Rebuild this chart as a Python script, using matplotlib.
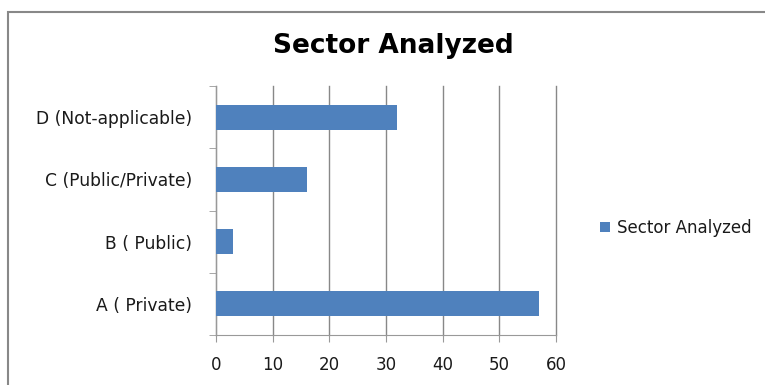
import matplotlib.pyplot as plt
from matplotlib.patches import Rectangle

categories = ['A ( Private)', 'B ( Public)', 'C (Public/Private)', 'D (Not-applicable)']
values = [57, 3, 16, 32]
xticks = [0, 10, 20, 30, 40, 50, 60]

plt.rcParams['font.family'] = ['DejaVu Sans']

fig = plt.figure(figsize=(7.65, 3.85), dpi=100)

# outer chart border
fig.patches.append(Rectangle((8 / 765, -0.1), 1.2, 1 - 12 / 385 + 0.1,
                             transform=fig.transFigure, fill=False,
                             edgecolor='#888888', linewidth=1.5))

ax = fig.add_axes([216 / 765, 1 - 335 / 385, 340 / 765, 249 / 385])
pos = range(len(categories))
bars = ax.barh(pos, values, height=0.4, color='#4F81BD', label='Sector Analyzed', zorder=3)

ax.set_xlim(0, 60)
ax.set_ylim(-0.5, 3.5)
ax.set_xticks(xticks)
ax.set_yticks(list(pos))
ax.set_yticklabels(categories)
ax.set_yticks([-0.5, 0.5, 1.5, 2.5, 3.5], minor=True)
ax.tick_params(axis='y', which='major', length=0, pad=17, labelsize=12.3, labelcolor='#1a1a1a')
ax.tick_params(axis='y', which='minor', length=5, color='#999999', direction='out')
ax.tick_params(axis='x', length=5, color='#999999', direction='out', pad=10,
               labelsize=12, labelcolor='#1a1a1a')

ax.grid(axis='x', color='#888888', linewidth=1, zorder=0)
for line in ax.get_xgridlines():
    line.set_clip_on(False)
for s in ['top', 'right']:
    ax.spines[s].set_visible(False)
ax.spines['left'].set_color('#999999')
ax.spines['bottom'].set_color('#999999')

fig.text(393 / 765, 1 - 46 / 385, 'Sector Analyzed', ha='center', va='center',
         fontsize=19, fontweight='bold', color='#000000')

fig.legend(handles=[bars], labels=['Sector Analyzed'], loc='center left',
           bbox_to_anchor=(585 / 765, 1 - 228 / 385), frameon=False,
           fontsize=12, handlelength=0.6, handleheight=0.6, handletextpad=0.4,
           labelcolor='#1a1a1a')

fig.savefig('out.png', dpi=100)
